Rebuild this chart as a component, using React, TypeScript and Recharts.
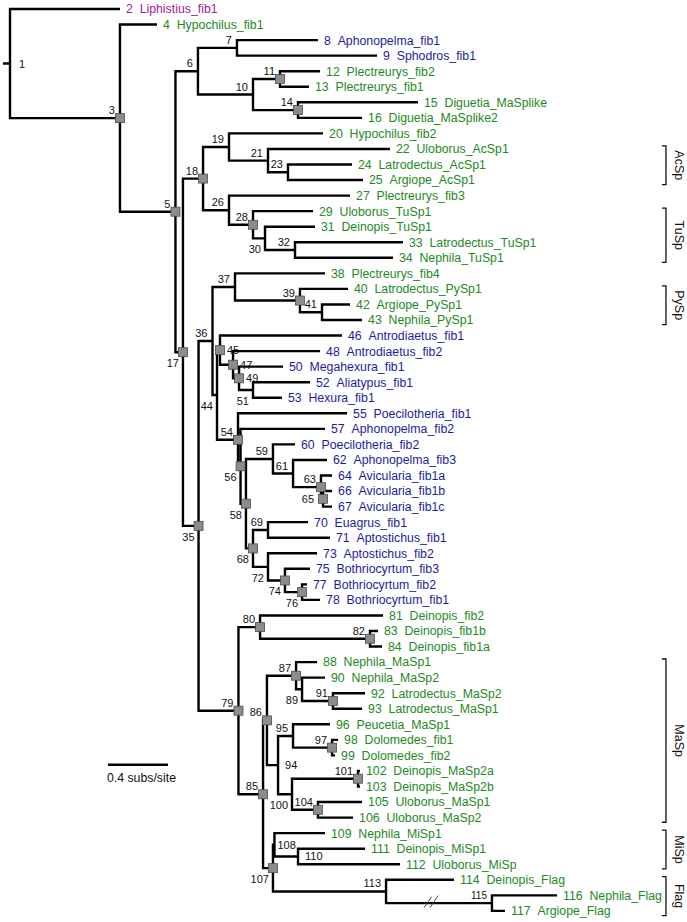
import { ComposedChart, Line, Scatter, XAxis, YAxis } from "recharts";

// tips, top to bottom
const leafIds = [2, 4, 8, 9, 12, 13, 15, 16, 20, 22, 24, 25, 27, 29, 31, 33, 34, 38, 40, 42, 43, 46, 48, 50, 52, 53, 55, 57, 60, 62, 64, 66, 67, 70, 71, 73, 75, 77, 78, 81, 83, 84, 88, 90, 92, 93, 96, 98, 99, 102, 103, 105, 106, 109, 111, 112, 114, 116, 117];
const leafNames = [
  "Liphistius_fib1", "Hypochilus_fib1", "Aphonopelma_fib1", "Sphodros_fib1", "Plectreurys_fib2", "Plectreurys_fib1",
  "Diguetia_MaSplike", "Diguetia_MaSplike2", "Hypochilus_fib2", "Uloborus_AcSp1", "Latrodectus_AcSp1", "Argiope_AcSp1",
  "Plectreurys_fib3", "Uloborus_TuSp1", "Deinopis_TuSp1", "Latrodectus_TuSp1", "Nephila_TuSp1", "Plectreurys_fib4",
  "Latrodectus_PySp1", "Argiope_PySp1", "Nephila_PySp1", "Antrodiaetus_fib1", "Antrodiaetus_fib2", "Megahexura_fib1",
  "Aliatypus_fib1", "Hexura_fib1", "Poecilotheria_fib1", "Aphonopelma_fib2", "Poecilotheria_fib2", "Aphonopelma_fib3",
  "Avicularia_fib1a", "Avicularia_fib1b", "Avicularia_fib1c", "Euagrus_fib1", "Aptostichus_fib1", "Aptostichus_fib2",
  "Bothriocyrtum_fib3", "Bothriocyrtum_fib2", "Bothriocyrtum_fib1", "Deinopis_fib2", "Deinopis_fib1b", "Deinopis_fib1a",
  "Nephila_MaSp1", "Nephila_MaSp2", "Latrodectus_MaSp2", "Latrodectus_MaSp1", "Peucetia_MaSp1", "Dolomedes_fib1",
  "Dolomedes_fib2", "Deinopis_MaSp2a", "Deinopis_MaSp2b", "Uloborus_MaSp1", "Uloborus_MaSp2", "Nephila_MiSp1",
  "Deinopis_MiSp1", "Uloborus_MiSp", "Deinopis_Flag", "Nephila_Flag", "Argiope_Flag",
];
// distance from root, subs/site
const leafDepths = [
  0.733, 0.98, 2.053, 2.447, 2.067, 1.993, 2.72, 2.347, 2.087, 2.533, 2.28, 2.353, 2.267, 2.02, 2.033, 2.62, 2.553,
  2.1, 2.253, 2.267, 2.347, 2.213, 2.067, 1.82, 2.0, 1.813, 2.247, 2.1, 1.9, 2.113, 2.147, 2.147, 2.147, 1.987, 2.133,
  2.047, 2.0, 1.98, 2.067, 2.487, 2.453, 2.48, 2.047, 2.1, 2.367, 2.347, 2.133, 2.187, 2.167, 2.333, 2.333, 2.347,
  2.287, 2.1, 2.367, 2.6, 2.96, 3.647, 3.3,
];
const mygalomorphLeaves = [8, 9, 46, 48, 50, 52, 53, 55, 57, 60, 62, 64, 66, 67, 70, 71, 73, 75, 77, 78];
const liphistiidLeaves = [2];

// internal nodes (preorder numbering)
const nodeIds = [1, 3, 5, 6, 7, 10, 11, 14, 17, 18, 19, 21, 23, 26, 28, 30, 32, 35, 36, 37, 39, 41, 44, 45, 47, 49, 51, 54, 56, 58, 59, 61, 63, 65, 68, 69, 72, 74, 76, 79, 80, 82, 85, 86, 87, 89, 91, 94, 95, 97, 100, 101, 104, 107, 108, 110, 113, 115];
const nodeChildren = [
  [2, 3], [4, 5], [6, 17], [7, 10], [8, 9], [11, 14], [12, 13], [15, 16], [18, 35], [19, 26], [20, 21], [22, 23],
  [24, 25], [27, 28], [29, 30], [31, 32], [33, 34], [36, 79], [37, 44], [38, 39], [40, 41], [42, 43], [45, 54],
  [46, 47], [48, 49], [50, 51], [52, 53], [55, 56], [57, 58], [59, 68], [60, 61], [62, 63], [64, 65], [66, 67],
  [69, 72], [70, 71], [73, 74], [75, 76], [77, 78], [80, 85], [81, 82], [83, 84], [86, 107], [87, 94], [88, 89],
  [90, 91], [92, 93], [95, 100], [96, 97], [98, 99], [101, 104], [102, 103], [105, 106], [108, 113], [109, 110],
  [111, 112], [114, 115], [116, 117],
];
const nodeDepths = [
  0, 0.733, 1.103, 1.253, 1.513, 1.62, 1.8, 1.92, 1.153, 1.287, 1.46, 1.72, 1.853, 1.46, 1.62, 1.7, 1.9, 1.257, 1.35,
  1.5, 1.933, 2.08, 1.38, 1.4, 1.487, 1.527, 1.62, 1.52, 1.537, 1.573, 1.753, 1.887, 2.073, 2.087, 1.62, 1.72, 1.72,
  1.833, 1.947, 1.523, 1.667, 2.4, 1.687, 1.713, 1.907, 1.947, 2.153, 1.787, 1.887, 2.147, 1.88, 2.32, 2.053, 1.753,
  1.763, 1.92, 2.507, 3.213,
];
const supportedNodes = [3, 5, 11, 14, 17, 18, 28, 35, 39, 45, 47, 49, 54, 56, 58, 63, 65, 68, 74, 76, 79, 80, 82, 85, 86, 87, 91, 97, 101, 104, 107];
const labelBelow = [17, 30, 35, 44, 51, 56, 58, 68, 72, 74, 76, 89, 100, 107];
const labelRight = [1, 45, 47, 49, 94, 108, 110];
const labelLeft = [65];

const cladeNames = ["AcSp", "TuSp", "PySp", "MaSp", "MiSp", "Flag"];
const cladeFirst = [22, 29, 40, 88, 109, 114];
const cladeLast = [25, 34, 43, 106, 112, 117];

const SCALE_LENGTH = 0.4;
const SCALE_LABEL = "0.4 subs/site";

const W = 687;
const H = 922;
const FONT = "'Liberation Sans', Arial, Helvetica, sans-serif";
const GREEN = "#238a23";
const BLUE = "#1d1d9e";
const PURPLE = "#a0219a";

// layout helpers
const pos: Record<number, { x: number; y: number }> = {};
leafIds.forEach((id, i) => {
  pos[id] = { x: leafDepths[i], y: i };
});
const parentOf: Record<number, number> = {};
nodeChildren.forEach((c, i) => {
  parentOf[c[0]] = nodeIds[i];
  parentOf[c[1]] = nodeIds[i];
});
// children always carry higher numbers, so walk ids downward
[...nodeIds]
  .sort((a, b) => b - a)
  .forEach((id) => {
    const i = nodeIds.indexOf(id);
    const [a, b] = nodeChildren[i];
    pos[id] = { x: nodeDepths[i], y: (pos[a].y + pos[b].y) / 2 };
  });

const edgeData: { x: number; y: number | null }[] = [];
Object.keys(parentOf).forEach((k) => {
  const id = Number(k);
  const p = pos[parentOf[id]];
  const n = pos[id];
  edgeData.push({ x: p.x, y: p.y }, { x: p.x, y: n.y }, { x: n.x, y: n.y }, { x: n.x, y: null });
});
edgeData.push({ x: -0.047, y: pos[1].y }, { x: 0, y: pos[1].y });

const leafData = leafIds.map((id, i) => ({
  x: leafDepths[i],
  y: i,
  id,
  name: leafNames[i],
  color: liphistiidLeaves.includes(id) ? PURPLE : mygalomorphLeaves.includes(id) ? BLUE : GREEN,
}));

const nodeData = nodeIds.map((id) => ({ x: pos[id].x, y: pos[id].y, id }));

const scaleStart = { x: 0.653, y: 48.6 };
const scaleData = [scaleStart, { x: scaleStart.x + SCALE_LENGTH, y: scaleStart.y }];

const BRACKET_X = 4.373;
const TICK = 0.027;

const LeafLabel = (props: any) => {
  const { cx, cy, payload } = props;
  return (
    <text x={cx + 6} y={cy + 4.4} fill={payload.color} fontSize={12.3} fontFamily={FONT}>
      {`${payload.id}\u00a0\u00a0${payload.name}`}
    </text>
  );
};

const NodeMark = (props: any) => {
  const { cx, cy, payload } = props;
  const id = payload.id;
  const sq = supportedNodes.includes(id);
  let x = cx - 5;
  let y = cy - 4;
  let anchor = "end";
  if (labelBelow.includes(id)) {
    x = cx - 4;
    y = cy + 15;
  } else if (labelRight.includes(id)) {
    x = cx + (id === 1 ? 9 : id === 108 ? 3 : 7);
    y = cy + 4;
    anchor = "start";
  } else if (labelLeft.includes(id)) {
    x = cx - 9;
    y = cy + 4;
  }
  return (
    <g>
      {sq && <rect x={cx - 4.5} y={cy - 4.5} width={9} height={9} fill="#8c8c8c" stroke="#4d4d4d" strokeWidth={0.8} />}
      <text x={x} y={y} textAnchor={anchor} fontSize={id === 115 ? 10 : 11} fontFamily={FONT} fill="#111">
        {id}
      </text>
    </g>
  );
};

const BreakMark = (props: any) => {
  const { cx, cy } = props;
  return (
    <g stroke="#444" strokeWidth={1}>
      <line x1={cx - 7} y1={cy + 4.5} x2={cx + 0.5} y2={cy - 6.5} />
      <line x1={cx - 1} y1={cy + 4.5} x2={cx + 7} y2={cy - 7.5} />
    </g>
  );
};

const CladeLabel = (props: any) => {
  const { cx, cy, payload } = props;
  const x = cx + 13;
  return (
    <text
      x={x}
      y={cy}
      transform={`rotate(90, ${x}, ${cy})`}
      textAnchor="middle"
      dominantBaseline="central"
      fontSize={12.5}
      fontFamily={FONT}
      fill="#111"
    >
      {payload.name}
    </text>
  );
};

const ScaleLabel = (props: any) => {
  const { cx, cy } = props;
  return (
    <text x={cx - 1} y={cy + 17.5} fontSize={12.3} fontFamily={FONT} fill="#111">
      {SCALE_LABEL}
    </text>
  );
};

export default function App() {
  const cladeLabelData = cladeNames.map((name, i) => ({
    x: BRACKET_X,
    y: (pos[cladeFirst[i]].y - 0.2 + pos[cladeLast[i]].y + 0.3) / 2,
    name,
  }));

  return (
    <div style={{ position: "absolute", left: 0, top: 0, width: W, height: H, background: "#fff" }}>
      <ComposedChart width={W} height={H} margin={{ top: 0, right: 0, bottom: 0, left: 0 }}>
        <XAxis type="number" dataKey="x" domain={[-0.0667, 4.5133]} allowDataOverflow hide />
        <YAxis type="number" dataKey="y" domain={[-0.579, 58.714]} allowDataOverflow reversed hide />
        <Line
          data={edgeData}
          dataKey="y"
          type="linear"
          stroke="#000"
          strokeWidth={2.4}
          dot={false}
          activeDot={false}
          isAnimationActive={false}
          connectNulls={false}
        />
        <Line
          data={scaleData}
          dataKey="y"
          type="linear"
          stroke="#000"
          strokeWidth={2.5}
          dot={false}
          activeDot={false}
          isAnimationActive={false}
        />
        {cladeNames.map((name, i) => {
          const top = pos[cladeFirst[i]].y - 0.2;
          const bottom = pos[cladeLast[i]].y + 0.3;
          return (
            <Line
              key={name}
              data={[
                { x: BRACKET_X - TICK, y: top },
                { x: BRACKET_X, y: top },
                { x: BRACKET_X, y: bottom },
                { x: BRACKET_X - TICK, y: bottom },
              ]}
              dataKey="y"
              type="linear"
              stroke="#111"
              strokeWidth={1.3}
              dot={false}
              activeDot={false}
              isAnimationActive={false}
            />
          );
        })}
        <Scatter data={leafData} shape={LeafLabel} isAnimationActive={false} />
        <Scatter data={nodeData} shape={NodeMark} isAnimationActive={false} />
        <Scatter data={[{ x: 2.807, y: pos[115].y }]} shape={BreakMark} isAnimationActive={false} />
        <Scatter data={cladeLabelData} shape={CladeLabel} isAnimationActive={false} />
        <Scatter data={[scaleStart]} shape={ScaleLabel} isAnimationActive={false} />
      </ComposedChart>
    </div>
  );
}
